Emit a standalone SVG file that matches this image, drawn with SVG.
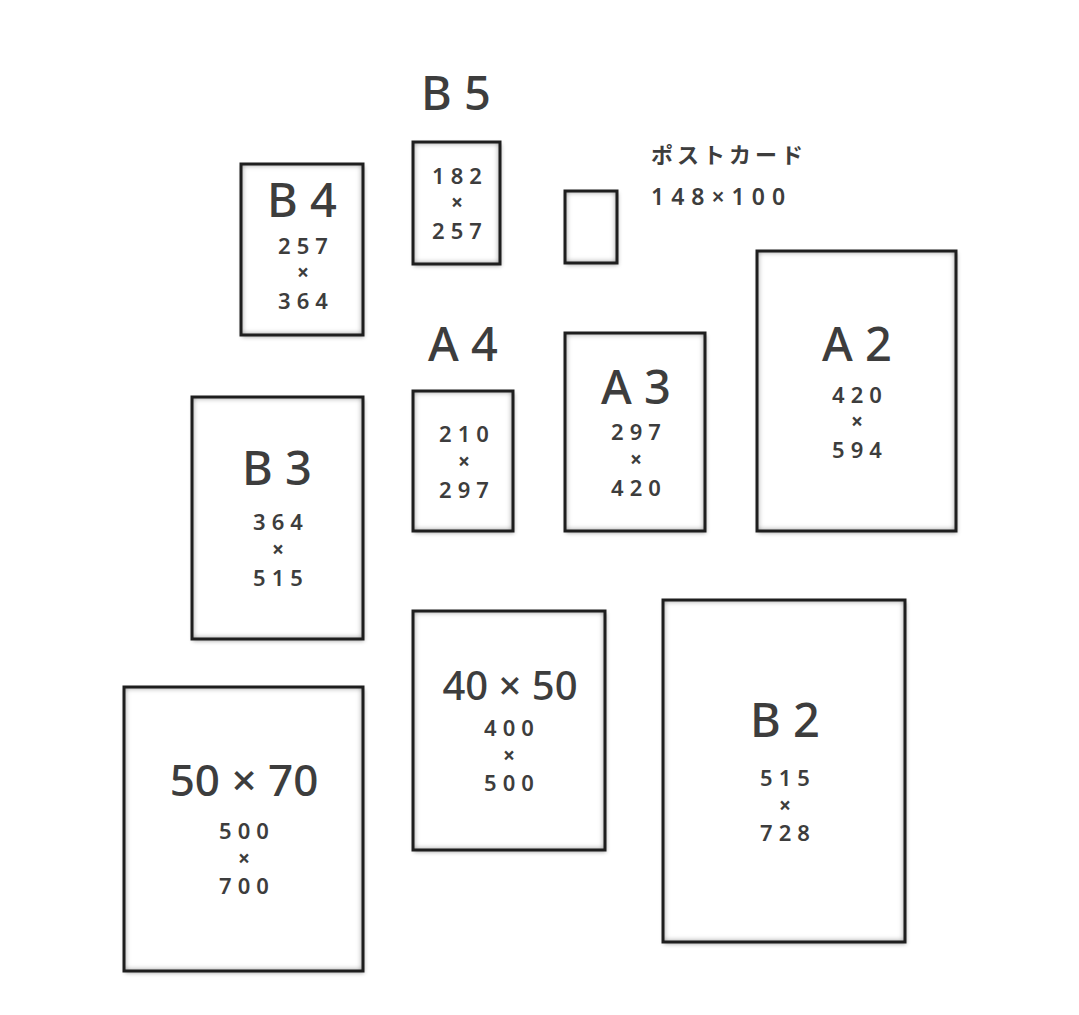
<svg xmlns="http://www.w3.org/2000/svg" width="1079" height="1015" viewBox="0 0 1079 1015">
<defs>
<filter id="fx" x="-15%" y="-15%" width="130%" height="130%" color-interpolation-filters="sRGB">
  <feGaussianBlur in="SourceAlpha" stdDeviation="2" result="b"/>
  <feOffset in="b" dx="1" dy="2" result="ob"/>
  <feFlood flood-color="#000" flood-opacity="0.35"/>
  <feComposite in2="ob" operator="in" result="drop"/>
  <feComponentTransfer in="SourceAlpha" result="inv"><feFuncA type="table" tableValues="1 0"/></feComponentTransfer>
  <feGaussianBlur in="inv" stdDeviation="3" result="invb"/>
  <feComposite in="invb" in2="SourceAlpha" operator="in" result="innerA"/>
  <feFlood flood-color="#444" flood-opacity="0.8"/>
  <feComposite in2="innerA" operator="in" result="inner"/>
  <feMerge><feMergeNode in="drop"/><feMergeNode in="SourceGraphic"/><feMergeNode in="inner"/></feMerge>
</filter>
</defs>
<style>
.bg{fill:#fff}
.paper{fill:#fff;filter:url(#fx)}
.edge{fill:none;stroke:#1e1e1e;stroke-width:3}
text{fill:#3d3d3d;font-family:"Noto Sans","Noto Sans CJK JP",sans-serif;text-anchor:middle}
.big{font-size:47px;font-weight:500}
.mid{font-size:44px;font-weight:500}
.mid2{font-size:40px;font-weight:500}
.dim{font-size:22px;font-weight:600;letter-spacing:6px}
.x{font-size:21px;font-weight:700}
.jp{font-size:22px;font-weight:700;letter-spacing:4px;text-anchor:start;font-family:"Noto Sans CJK JP",sans-serif}
.jd{font-size:23px;font-weight:600;letter-spacing:7px;text-anchor:start}
</style>
<rect class="bg" x="0" y="0" width="1079" height="1015"/>

<g id="b5-label"><text class="big" x="456" y="110">B 5</text></g>

<g id="b4">
  <rect class="paper" x="241" y="164" width="122" height="171"/>
  <rect class="edge" x="241" y="164" width="122" height="171"/>
  <text class="big" x="302" y="217">B 4</text>
  <text class="dim" x="306" y="254">257</text>
  <text class="x" x="303" y="280">×</text>
  <text class="dim" x="306" y="309">364</text>
</g>

<g id="b5">
  <rect class="paper" x="413" y="142" width="87" height="122"/>
  <rect class="edge" x="413" y="142" width="87" height="122"/>
  <text class="dim" x="460" y="184">182</text>
  <text class="x" x="457" y="210">×</text>
  <text class="dim" x="460" y="239">257</text>
</g>

<g id="postcard">
  <rect class="paper" x="565" y="191" width="52" height="72"/>
  <rect class="edge" x="565" y="191" width="52" height="72"/>
  <text class="jp" x="651" y="163">ポストカード</text>
  <text class="jd" x="651" y="205">148×100</text>
</g>

<g id="a4">
  <text class="big" x="463" y="361">A 4</text>
  <rect class="paper" x="413" y="391" width="100" height="140"/>
  <rect class="edge" x="413" y="391" width="100" height="140"/>
  <text class="dim" x="467" y="442">210</text>
  <text class="x" x="464" y="469">×</text>
  <text class="dim" x="467" y="498">297</text>
</g>

<g id="a3">
  <rect class="paper" x="565" y="333" width="140" height="198"/>
  <rect class="edge" x="565" y="333" width="140" height="198"/>
  <text class="big" x="636" y="404">A 3</text>
  <text class="dim" x="639" y="440">297</text>
  <text class="x" x="636" y="467">×</text>
  <text class="dim" x="639" y="496">420</text>
</g>

<g id="a2">
  <rect class="paper" x="757" y="251" width="199" height="280"/>
  <rect class="edge" x="757" y="251" width="199" height="280"/>
  <text class="big" x="857" y="361">A 2</text>
  <text class="dim" x="860" y="403">420</text>
  <text class="x" x="857" y="429">×</text>
  <text class="dim" x="860" y="458">594</text>
</g>

<g id="b3">
  <rect class="paper" x="192" y="397" width="171" height="242"/>
  <rect class="edge" x="192" y="397" width="171" height="242"/>
  <text class="big" x="277" y="485">B 3</text>
  <text class="dim" x="281" y="530">364</text>
  <text class="x" x="278" y="557">×</text>
  <text class="dim" x="281" y="586">515</text>
</g>

<g id="s40x50">
  <rect class="paper" x="413" y="611" width="192" height="239"/>
  <rect class="edge" x="413" y="611" width="192" height="239"/>
  <text class="mid2" x="510" y="700">40 × 50</text>
  <text class="dim" x="512" y="736">400</text>
  <text class="x" x="509" y="763">×</text>
  <text class="dim" x="512" y="791">500</text>
</g>

<g id="b2">
  <rect class="paper" x="663" y="600" width="242" height="342"/>
  <rect class="edge" x="663" y="600" width="242" height="342"/>
  <text class="big" x="785" y="737">B 2</text>
  <text class="dim" x="788" y="786">515</text>
  <text class="x" x="785" y="813">×</text>
  <text class="dim" x="788" y="841">728</text>
</g>

<g id="s50x70">
  <rect class="paper" x="124" y="687" width="239" height="284"/>
  <rect class="edge" x="124" y="687" width="239" height="284"/>
  <text class="mid" x="244" y="796">50 × 70</text>
  <text class="dim" x="247" y="839">500</text>
  <text class="x" x="244" y="866">×</text>
  <text class="dim" x="247" y="894">700</text>
</g>

<g id="connectors"></g>
</svg>
